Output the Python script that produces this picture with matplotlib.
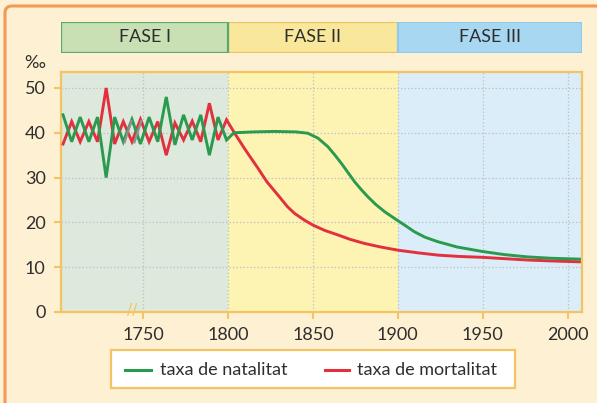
import matplotlib
matplotlib.use("Agg")
import matplotlib.pyplot as plt
from matplotlib import font_manager
from matplotlib.patches import Rectangle, FancyBboxPatch
from matplotlib.lines import Line2D
from matplotlib.transforms import IdentityTransform

# ---------------- data ----------------
osc_years = [1702.8, 1707.9, 1712.9, 1718.0, 1723.1, 1728.2, 1733.2, 1738.3, 1743.4, 1748.4,
             1753.5, 1758.6, 1763.6, 1768.7, 1773.8, 1778.9, 1783.9, 1789.0, 1794.1, 1799.1]
osc_birth = [44, 38, 43.5, 38, 43.5, 30, 43.5, 38, 43, 37.5,
             43.5, 38, 48, 37.3, 44, 38.4, 44, 35, 43.5, 38.4]
osc_death = [37.5, 42.5, 38, 42.5, 38, 50, 37.5, 42.5, 38, 43,
             38, 42.5, 35, 42.2, 38.4, 42.6, 38, 46.6, 38.4, 42.9]

birth_years = [1803.5, 1815, 1827, 1840, 1847, 1853, 1858.8, 1863, 1866.7, 1870.5, 1874.5,
               1878.5, 1882.4, 1887, 1892.2, 1898, 1904, 1909.8, 1916, 1923.5, 1935,
               1950, 1963, 1976.5, 1990, 2007]
birth_rate = [40, 40.2, 40.3, 40.2, 39.9, 38.8, 36.9, 35, 33.2, 31.2, 29.1,
              27.3, 25.7, 24, 22.4, 20.9, 19.4, 17.9, 16.7, 15.7, 14.5,
              13.5, 12.8, 12.3, 12.0, 11.8]

death_years = [1803.9, 1810, 1817.6, 1823, 1829.4, 1835, 1839.2, 1845, 1850, 1857, 1864.7,
               1872, 1880.4, 1890, 1900, 1912, 1923.5, 1936, 1950, 1963, 1976.5, 1990, 2007]
death_rate = [39.9, 36.3, 32.1, 29.0, 26.1, 23.5, 22.0, 20.5, 19.4, 18.2, 17.2,
              16.2, 15.3, 14.5, 13.8, 13.2, 12.7, 12.4, 12.2, 11.9, 11.6, 11.4, 11.2]

phase_labels = ["FASE I", "FASE II", "FASE III"]
phase_bounds = [1701.6, 1800, 1900, 2008.5]
x_ticks = [1750, 1800, 1850, 1900, 1950, 2000]
y_ticks = [0, 10, 20, 30, 40, 50]
series_labels = ["taxa de natalitat", "taxa de mortalitat"]
y_unit = "‰"

# ---------------- style ----------------
avail = {f.name for f in font_manager.fontManager.ttflist}
main_font = "Lato" if "Lato" in avail else "DejaVu Sans"
plt.rcParams["font.family"] = [main_font, "DejaVu Sans"]

BG = "#fdf0d3"
FRAME = "#f5c462"
TXT = "#2e2e2e"
GREEN = "#2a9a4e"
RED = "#e2303f"
phase_fill = ["#dde9dc", "#fdf4b3", "#dbedf8"]
head_fill = ["#c8e0b4", "#f9e89c", "#a8d7f2"]
head_edge = ["#5aaa6c", "#eac260", "#8fcae9"]

W, H = 597, 403
fig = plt.figure(figsize=(W / 100, H / 100), dpi=100, facecolor=BG)

# outer orange border (top and left visible)
fig.patches.append(FancyBboxPatch((5, -20), 640, H - 6 + 20, boxstyle="round,pad=0,rounding_size=7",
                                  transform=IdentityTransform(), facecolor="none",
                                  edgecolor="#f29a55", linewidth=2.2, figure=fig))

def fx(px):
    return px / W

def fy(py):
    return 1 - py / H

# main axes
ax = fig.add_axes([fx(61), fy(312), fx(582) - fx(61), fy(72.3) - fy(312)])
ax.set_xlim(phase_bounds[0], phase_bounds[-1])
ax.set_ylim(0, 53.5)
for i in range(3):
    ax.axvspan(phase_bounds[i], phase_bounds[i + 1], color=phase_fill[i], zorder=0, lw=0)

ax.set_xticks(x_ticks)
ax.set_yticks(y_ticks)
ax.grid(True, linestyle=(0, (1.2, 1.6)), color="#c4c4c4", linewidth=0.9, zorder=1)
for s in ax.spines.values():
    s.set_color(FRAME)
    s.set_linewidth(1.6)
ax.tick_params(axis="both", colors=FRAME, width=1.5, length=5, labelcolor=TXT, labelsize=13)
ax.tick_params(axis="y", pad=6)
ax.tick_params(axis="x", pad=6)

gx = osc_years + birth_years
gy = osc_birth + birth_rate
rx = osc_years + death_years
ry = osc_death + death_rate
ax.plot(rx, ry, color=RED, lw=2.1, zorder=3, solid_joinstyle="miter")
ax.plot(gx, gy, color=GREEN, lw=2.1, zorder=4, solid_joinstyle="miter")

# axis break marks
ax.text(1744, 40, "//", color="#909090", fontsize=21, ha="center", va="center", zorder=6,
        family=["DejaVu Sans"])
ax.text(1743.5, 0.3, "//", color=FRAME, fontsize=11, ha="center", va="center", zorder=5,
        clip_on=False, family=["DejaVu Sans"])

# ‰ label
fig.text(fx(35), fy(63), y_unit, color=TXT, fontsize=13, ha="center", va="center")

# header phases
hax = fig.add_axes([fx(61), fy(52.7), fx(582) - fx(61), fy(22.3) - fy(52.7)])
hax.set_xlim(phase_bounds[0], phase_bounds[-1])
hax.set_ylim(0, 1)
hax.axis("off")
for i in range(3):
    hax.add_patch(Rectangle((phase_bounds[i], 0), phase_bounds[i + 1] - phase_bounds[i], 1,
                            facecolor=head_fill[i], edgecolor=head_edge[i], lw=1.6, zorder=2 + (i == 0)))
    hax.text((phase_bounds[i] + phase_bounds[i + 1]) / 2, 0.5, phase_labels[i], ha="center",
             va="center", fontsize=13, color=TXT, zorder=5)

# legend box
fig.patches.append(Rectangle((fx(111), fy(388)), fx(515) - fx(111), fy(350) - fy(388),
                             transform=fig.transFigure, facecolor="white", edgecolor=FRAME,
                             lw=1.6, figure=fig))
leg_y = fy(370)
for (x0, x1, xt), col, lab in zip([(125, 151, 160), (325, 349, 357)], [GREEN, RED], series_labels):
    fig.lines.append(Line2D([fx(x0), fx(x1)], [leg_y, leg_y], transform=fig.transFigure,
                            color=col, lw=2.2, figure=fig))
    fig.text(fx(xt), leg_y, lab, color=TXT, fontsize=13, ha="left", va="center")

fig.savefig("out.png", dpi=100, facecolor=BG)
